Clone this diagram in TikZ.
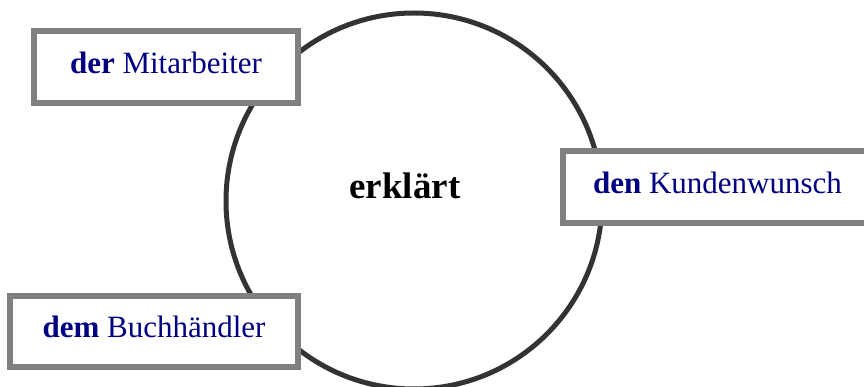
\documentclass[tikz,border=0pt]{standalone}
\usepackage{fontspec}
\setmainfont{Liberation Serif}
\usepackage{tikz}

\definecolor{navytext}{HTML}{000080}
\definecolor{boxgray}{HTML}{808080}
\definecolor{ringgray}{HTML}{333333}

\tikzset{
  box/.style={shape=rectangle,draw=boxgray,fill=white,line width=6pt,inner sep=0pt,
    text=navytext,font=\fontsize{31}{37}\selectfont,text height=21.7pt,text depth=9.3pt},
}

\begin{document}
\begin{tikzpicture}[x=1pt,y=-1pt]
\useasboundingbox (0,0) rectangle (864,387);
\clip (0,0) rectangle (864,387);
\node[shape=circle,draw=ringgray,line width=5pt,minimum size=376pt] (V) at (414,201) {};
\node[anchor=base,font=\fontsize{37}{44}\selectfont\bfseries] (E) at (405,199) {erklärt};
\node[box,minimum width=264pt,minimum height=72pt] (N) at (166,67) {\textbf{der} Mitarbeiter};
\node[box,minimum width=310pt,minimum height=72pt] (A) at (717.5,187) {\textbf{den} Kundenwunsch};
\node[box,minimum width=288pt,minimum height=71pt] (D) at (154,331.5) {\textbf{dem} Buchhändler};
\end{tikzpicture}
\end{document}
